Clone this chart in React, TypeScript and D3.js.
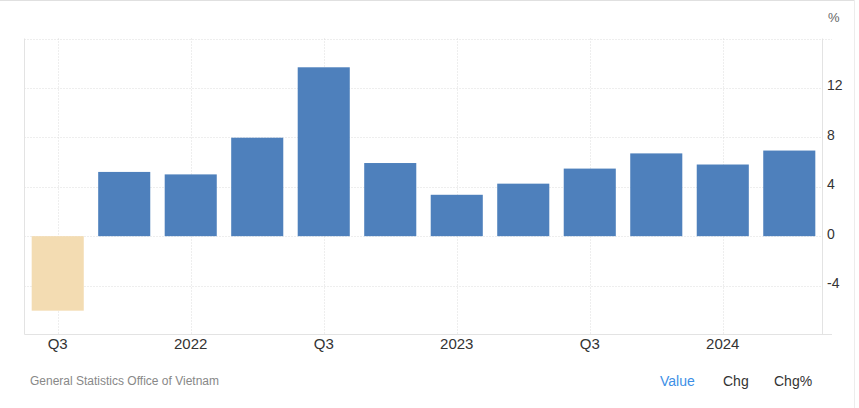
import React from "react";
import * as d3 from "d3";

const categories = [
  "2021Q3", "2021Q4", "2022Q1", "2022Q2", "2022Q3", "2022Q4",
  "2023Q1", "2023Q2", "2023Q3", "2023Q4", "2024Q1", "2024Q2",
];
const values = [-6.03, 5.2, 5.0, 7.97, 13.67, 5.92, 3.35, 4.25, 5.47, 6.7, 5.8, 6.93];
const xTickCats = ["2021Q3", "2022Q1", "2022Q3", "2023Q1", "2023Q3", "2024Q1"];
const xTickLabels = ["Q3", "2022", "Q3", "2023", "Q3", "2024"];
const yTicks = [-4, 0, 4, 8, 12];
const yGrid = [-4, 0, 4, 8, 12, 16];
const legendItems = ["Value", "Chg", "Chg%"];

const W = 859;
const H = 408;
const FONT = "'Liberation Sans', Arial, Helvetica, sans-serif";

export default function App() {
  const left = 24.5;
  const right = 822.5;
  const x = d3.scaleBand<string>().domain(categories).range([left, right]).paddingInner(0.217).paddingOuter(0.108);
  const y = d3.scaleLinear().domain([-8, 16]).range([335, 38.5]);
  const bottom = 334.5;
  const top = y(16);
  const center = (c: string) => (x(c) ?? 0) + x.bandwidth() / 2;
  const legendX = [660, 723, 774];

  return (
    <svg width={W} height={H} style={{ position: "absolute", left: 0, top: 0, background: "#fff" }} fontFamily={FONT}>
      <rect x={0} y={0} width={W} height={H} fill="#fff" />
      {/* frame */}
      <line x1={0} x2={855} y1={0.5} y2={0.5} stroke="#e0e0e0" />
      <line x1={854.5} x2={854.5} y1={0} y2={H} stroke="#ececec" />

      {/* horizontal grid */}
      {yGrid.map((v) => (
        <line key={"hg" + v} x1={left} x2={v === 16 ? 832 : right} y1={Math.round(y(v)) + 0.5} y2={Math.round(y(v)) + 0.5}
          stroke="#dcdcdc" strokeDasharray="1,2" />
      ))}
      {/* vertical grid */}
      {xTickCats.map((c) => (
        <line key={"vg" + c} x1={Math.round(center(c)) + 0.5} x2={Math.round(center(c)) + 0.5} y1={top} y2={bottom}
          stroke="#dcdcdc" strokeDasharray="1,2" />
      ))}

      {/* bars */}
      {categories.map((c, i) => {
        const v = values[i];
        const y0 = y(0);
        const yv = y(v);
        return (
          <rect key={c} x={x(c)} width={x.bandwidth()} y={Math.min(y0, yv)} height={Math.abs(yv - y0)}
            fill={v < 0 ? "#f3dcb2" : "#4e80bc"} />
        );
      })}

      {/* axes */}
      <line x1={left} x2={left} y1={top} y2={bottom} stroke="#e3e3e3" />
      <line x1={right} x2={right} y1={top} y2={bottom} stroke="#e3e3e3" />
      <line x1={left} x2={832} y1={bottom} y2={bottom} stroke="#e3e3e3" />

      {/* y labels */}
      {yTicks.map((v) => (
        <text key={"yl" + v} x={827} y={y(v) + 2.5} fontSize={14} fill="#333">{v}</text>
      ))}
      <text x={828} y={22} fontSize={13} fill="#666">%</text>

      {/* x labels */}
      {xTickCats.map((c, i) => (
        <text key={"xl" + c} x={center(c)} y={349} fontSize={15} fill="#333" textAnchor="middle">{xTickLabels[i]}</text>
      ))}

      {/* footer */}
      <text x={30} y={385} fontSize={12} fill="#888">General Statistics Office of Vietnam</text>
      {legendItems.map((t, i) => (
        <text key={t} x={legendX[i]} y={386} fontSize={14} fill={i === 0 ? "#3d8fe6" : "#333"}>{t}</text>
      ))}
    </svg>
  );
}
